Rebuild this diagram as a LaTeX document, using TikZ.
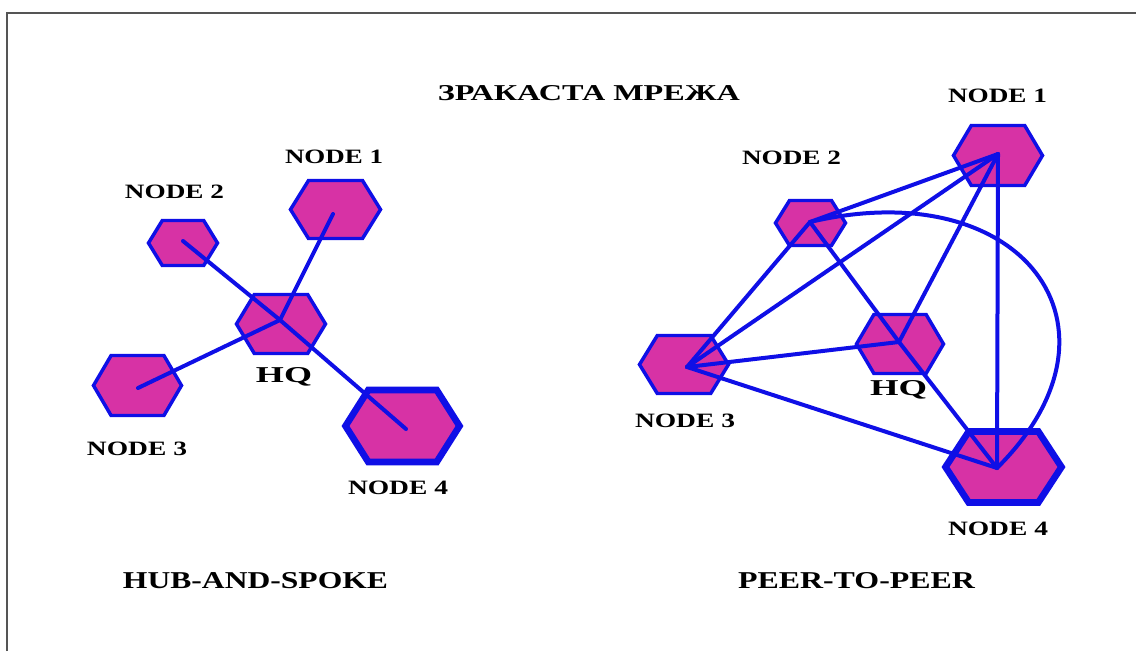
\documentclass[tikz,border=0pt]{standalone}
\usepackage{fontspec}
\setmainfont{Liberation Serif}
\usepackage{graphicx}

% one screen pixel of the drawing
\newdimen\px \px=0.75pt
% bold caption stretched to a given width and cap height (in pixels)
\newcommand\lbl[3]{\resizebox{#1\px}{#2\px}{\bfseries #3}}

\definecolor{hexpink}{RGB}{215,50,165}
\definecolor{linkblue}{RGB}{15,15,230}
\definecolor{framegrey}{RGB}{85,85,85}

\tikzset{
  hexbody/.style={draw=linkblue, fill=hexpink, line join=miter},
  link/.style={draw=linkblue, line width=3pt, line cap=round},
  caption/.style={inner sep=0pt, anchor=base},
  % flattened hexagon: width/height/offset x/offset y of its body from the hub point
  pics/hexa/.style args={#1/#2/#3/#4}{code={
    \draw[hexbody, shift={(#3,#4)}]
      (-#1/2,0) -- (-0.3*#1,-#2/2) -- (0.3*#1,-#2/2) -- (#1/2,0)
      -- (0.3*#1,#2/2) -- (-0.3*#1,#2/2) -- cycle;
    \coordinate (-c) at (0,0);
  }}
}

\begin{document}
\begin{tikzpicture}[x=0.75pt,y=-0.75pt,line width=2.6pt]
\useasboundingbox (0,0) rectangle (1136,651);

% frame
\draw[framegrey, line width=1.5pt] (7,651) |- (1136,13);

% title
\node[caption] (title) at (589,100) {\lbl{302}{15}{ЗРАКАСТА МРЕЖА}};

% ---------- hub-and-spoke ----------
\pic (L1) at (333,214) {hexa=90/58/2.5/-4.5};
\pic (L2) at (183,241) {hexa=69/45/0/2};
\pic (LH) at (280,320) {hexa=89/59/1/4};
\pic (L3) at (138,388) {hexa=88/60/-0.5/-2.5};
\pic[line width=5pt] (L4) at (406,429) {hexa=114/72/-3.5/-3};

\draw[link] (L1-c) -- (LH-c);
\draw[link] (L2-c) -- (LH-c);
\draw[link] (L3-c) -- (LH-c);
\draw[link] (L4-c) -- (LH-c);

\node[caption] (tL1) at (334,163) {\lbl{98}{13.5}{NODE 1}};
\node[caption] (tL2) at (174.5,198) {\lbl{99}{13.5}{NODE 2}};
\node[caption] (tLH) at (284,382) {\lbl{56}{15}{HQ}};
\node[caption] (tL3) at (137,455) {\lbl{100}{13.5}{NODE 3}};
\node[caption] (tL4) at (398,494) {\lbl{100}{13.5}{NODE 4}};
\node[caption] (tHS) at (255.5,588) {\lbl{265}{16}{HUB-AND-SPOKE}};

% ---------- peer-to-peer ----------
\pic (R1) at (998,154) {hexa=89/60/0/1.5};
\pic (R2) at (810,222) {hexa=70/45/0.5/1};
\pic (RH) at (899,342) {hexa=87/59/1/2};
\pic (R3) at (687,367) {hexa=89/58/-3/-2.5};
\pic[line width=5pt] (R4) at (997,468) {hexa=116/71/6.5/-1};

\draw[link] (R1-c) -- (R2-c);
\draw[link] (R1-c) -- (R3-c);
\draw[link] (R1-c) -- (RH-c);
\draw[link] (R1-c) -- (R4-c);
\draw[link] (R2-c) -- (R3-c);
\draw[link] (R2-c) -- (RH-c) -- (R4-c);
\draw[link] (R3-c) -- (RH-c);
\draw[link] (R3-c) -- (R4-c);
\draw[link] (R2-c) .. controls (1022,172) and (1139,327) .. (R4-c);

\node[caption] (tR1) at (997.5,102) {\lbl{99}{13.5}{NODE 1}};
\node[caption] (tR2) at (791.5,164) {\lbl{99}{13.5}{NODE 2}};
\node[caption] (tRH) at (898.5,395) {\lbl{57}{15}{HQ}};
\node[caption] (tR3) at (685,427) {\lbl{100}{13.5}{NODE 3}};
\node[caption] (tR4) at (998,535) {\lbl{100}{13.5}{NODE 4}};
\node[caption] (tPP) at (856.5,588) {\lbl{237}{16}{PEER-TO-PEER}};
\end{tikzpicture}
\end{document}
